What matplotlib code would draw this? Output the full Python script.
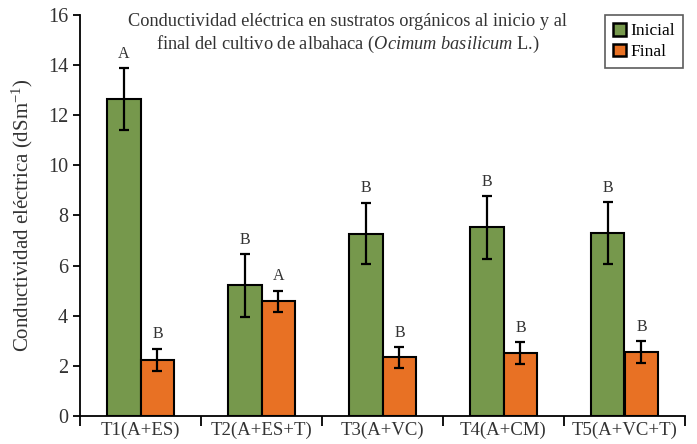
import matplotlib.pyplot as plt
import numpy as np

plt.rcParams['font.family'] = 'Liberation Serif'
plt.rcParams['mathtext.fontset'] = 'custom'
plt.rcParams['mathtext.rm'] = 'Liberation Serif'
plt.rcParams['mathtext.it'] = 'Liberation Serif:italic'

trat = ['T1(A+ES)', 'T2(A+ES+T)', 'T3(A+VC)', 'T4(A+CM)', 'T5(A+VC+T)']
inicial = [12.65, 5.22, 7.28, 7.53, 7.31]
inicial_err = [1.23, 1.25, 1.23, 1.25, 1.23]
final = [2.25, 4.58, 2.34, 2.51, 2.56]
final_err = [0.44, 0.42, 0.42, 0.43, 0.43]
letra_ini = ['A', 'B', 'B', 'B', 'B']
letra_fin = ['B', 'A', 'B', 'B', 'B']

fig = plt.figure(figsize=(6.97, 4.44), dpi=100)
ax = fig.add_axes([80/697, 1-416/444, 605/697, 401/444])

x = np.arange(len(trat))
w = 0.28
ek = dict(elinewidth=1.6, capthick=1.6, capsize=3.6, ecolor='black')
ax.bar(x - w/2, inicial, w, yerr=inicial_err, color='#76984c', edgecolor='black',
       linewidth=1.5, label='Inicial', error_kw=ek)
ax.bar(x + w/2, final, w, yerr=final_err, color='#e87124', edgecolor='black',
       linewidth=1.5, label='Final', error_kw=ek)

for i in range(len(trat)):
    ax.text(x[i] - w/2, inicial[i] + inicial_err[i] + 0.25, letra_ini[i],
            ha='center', va='bottom', fontsize=11.5, color='#333333')
    ax.text(x[i] + w/2, final[i] + final_err[i] + 0.25, letra_fin[i],
            ha='center', va='bottom', fontsize=11.5, color='#333333')

ax.set_xlim(-0.5, 4.5)
ax.set_ylim(0, 16)
ax.set_yticks(range(0, 17, 2))
ax.set_xticks(np.arange(-0.5, 5, 1))
ax.set_xticklabels([])
ax.set_xticks(x, minor=True)
ax.set_xticklabels(trat, minor=True)
ax.tick_params(axis='x', which='minor', length=0, labelsize=13.5, pad=4,
               labelcolor='#333333')
ax.tick_params(axis='x', which='major', length=7, width=1.3)
ax.tick_params(axis='y', labelsize=14.5, length=5, width=1.3, labelcolor='#333333')
for s in ['top', 'right']:
    ax.spines[s].set_visible(False)
for s in ['left', 'bottom']:
    ax.spines[s].set_linewidth(1.3)

ax.set_ylabel('Conductividad eléctrica (dSm$^{-1}$)', fontsize=15,
              color='#333333', labelpad=9)
fig.text(348/697, 1-13/444, 'Conductividad eléctrica en sustratos orgánicos al inicio y al\n'
         'final del cultivo de albahaca ($\\it{Ocimum\\ basilicum}$ L.)',
         ha='center', va='top', fontsize=13.2, color='#333333', linespacing=1.25)

leg = ax.legend(loc='upper right', bbox_to_anchor=(0.997, 1.0), fontsize=12.5,
                fancybox=False, edgecolor='#333333', handlelength=0.75,
                handleheight=0.75, handletextpad=0.3, borderpad=0.45,
                labelspacing=0.25, borderaxespad=0)
leg.get_frame().set_linewidth(1.2)
for h in leg.legend_handles:
    h.set_linewidth(1.8)

fig.savefig('out.png', dpi=100)
